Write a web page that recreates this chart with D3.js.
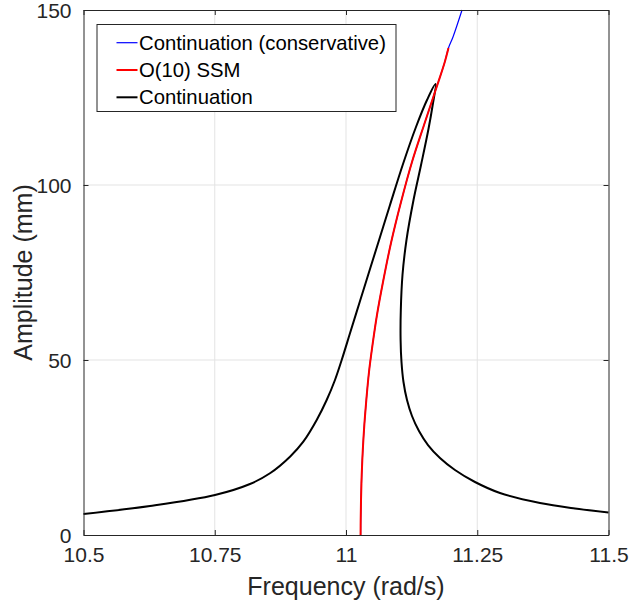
<!DOCTYPE html>
<html>
<head>
<meta charset="utf-8">
<script src="https://cdn.jsdelivr.net/npm/d3@7"></script>
<style>
body { margin: 0; background: #fff; }
text { font-family: "Liberation Sans", Arial, sans-serif; }
</style>
</head>
<body>
<script>
var w = 630;
var h = 606;

// full frequency response, continuation (freq in rad/s, amplitude in mm)
var contFreq = [10.5, 10.6267, 10.7505, 10.8171, 10.8552, 10.8933, 10.9187, 10.9442, 10.9632, 10.979, 10.9918, 11.0076, 11.0267, 11.0457, 11.0648, 11.0838, 11.1086, 11.1333, 11.1543, 11.1705,
  11.1648, 11.1571, 11.1429, 11.1286, 11.1152, 11.1076, 11.1044, 11.104, 11.1057, 11.1095, 11.1162, 11.1257, 11.139, 11.1562, 11.179, 11.2076, 11.2457, 11.2933, 11.3695, 11.4362, 11.5];
var contAmp = [6.0, 8.29, 11.43, 14.57, 17.63, 22.37, 26.66, 32.86, 38.57, 44.29, 50.0, 57.63, 66.86, 76.0, 85.14, 94.29, 106.0, 116.57, 124.29, 128.86,
  122.57, 116.0, 105.71, 95.71, 84.29, 74.29, 64.29, 55.71, 49.43, 43.71, 38.57, 34.0, 29.71, 25.71, 22.0, 18.57, 15.14, 12.0, 9.14, 7.57, 6.43];

// SSM backbone O(10)
var ssmFreq = [11.0278, 11.028, 11.0286, 11.0299, 11.032, 11.0349, 11.0387, 11.0438, 11.0505, 11.059, 11.0705, 11.0857, 11.1048, 11.1257, 11.1486, 11.1714, 11.1876, 11.1952];
var ssmAmp = [0, 4.29, 10.0, 17.14, 24.29, 31.43, 38.57, 46.57, 54.29, 62.86, 72.29, 83.43, 95.14, 106.57, 117.14, 127.43, 134.86, 139.14];

// conservative backbone continuation
var consFreq = [11.0278, 11.028, 11.0286, 11.0299, 11.032, 11.0349, 11.0387, 11.0438, 11.0505, 11.059, 11.0705, 11.0857, 11.1048, 11.1257, 11.1486, 11.1714, 11.1876, 11.1952, 11.2038, 11.221];
var consAmp = [0, 4.29, 10.0, 17.14, 24.29, 31.43, 38.57, 46.57, 54.29, 62.86, 72.29, 83.43, 95.14, 106.57, 117.14, 127.43, 134.86, 139.14, 142.29, 150];

var xTicks = [10.5, 10.75, 11, 11.25, 11.5];
var yTicks = [0, 50, 100, 150];
var legendNames = ["Continuation (conservative)", "O(10) SSM", "Continuation"];
var legendColors = ["#0000ff", "#ff0000", "#000000"];

var mLeft = 83.5, mRight = 608.5, mTop = 10, mBottom = 535;
var axisColor = "#262626";

var svg = d3.select("body").append("svg")
  .attr("width", w)
  .attr("height", h);

var x = d3.scaleLinear().domain([10.5, 11.5]).range([mLeft, mRight]);
var y = d3.scaleLinear().domain([0, 150]).range([mBottom, mTop]);

// grid
var grid = svg.append("g");
grid.selectAll(".gx").data(xTicks.slice(1, -1)).enter().append("line")
  .attr("x1", function(d) { return x(d); }).attr("x2", function(d) { return x(d); })
  .attr("y1", mTop).attr("y2", mBottom)
  .attr("stroke", "#e3e3e3").attr("stroke-width", 1);
grid.selectAll(".gy").data(yTicks.slice(1, -1)).enter().append("line")
  .attr("y1", function(d) { return y(d); }).attr("y2", function(d) { return y(d); })
  .attr("x1", mLeft).attr("x2", mRight)
  .attr("stroke", "#e3e3e3").attr("stroke-width", 1);

function zip(fs, as) {
  return fs.map(function(f, i) { return [f, as[i]]; });
}

var line = d3.line()
  .x(function(d) { return x(d[0]); })
  .y(function(d) { return y(d[1]); })
  .curve(d3.curveCatmullRom.alpha(0.5));

var plot = svg.append("g");
plot.append("path").datum(zip(consFreq, consAmp))
  .attr("d", line).attr("fill", "none").attr("stroke", "#0000ff").attr("stroke-width", 1.2);
plot.append("path").datum(zip(contFreq, contAmp))
  .attr("d", line).attr("fill", "none").attr("stroke", "#000").attr("stroke-width", 2);
plot.append("path").datum(zip(ssmFreq, ssmAmp))
  .attr("d", line).attr("fill", "none").attr("stroke", "#ff0000").attr("stroke-width", 2);

// axes (ticks inside, box)
var xAxis = svg.append("g").attr("transform", "translate(0," + mBottom + ")")
  .call(d3.axisBottom(x).tickValues(xTicks).tickSizeInner(-5).tickSizeOuter(0).tickPadding(12)
    .tickFormat(function(d) { return d3.format("")(d); }));
var xAxisTop = svg.append("g").attr("transform", "translate(0," + mTop + ")")
  .call(d3.axisTop(x).tickValues(xTicks).tickSizeInner(-5).tickSizeOuter(0).tickFormat(""));
var yAxis = svg.append("g").attr("transform", "translate(" + mLeft + ",0)")
  .call(d3.axisLeft(y).tickValues(yTicks).tickSizeInner(-5).tickSizeOuter(0).tickPadding(12));
var yAxisRight = svg.append("g").attr("transform", "translate(" + mRight + ",0)")
  .call(d3.axisRight(y).tickValues(yTicks).tickSizeInner(-5).tickSizeOuter(0).tickFormat(""));

[xAxis, xAxisTop, yAxis, yAxisRight].forEach(function(a) {
  a.selectAll("path").attr("stroke", axisColor);
  a.selectAll("line").attr("stroke", axisColor);
  a.selectAll("text").attr("fill", axisColor).style("font-size", "21px")
    .style("font-family", "'Liberation Sans', Arial, sans-serif");
});
xAxis.selectAll("text").attr("dy", "0.71em");
yAxis.selectAll("text").attr("dy", "0.36em");

// axis titles
svg.append("text")
  .attr("x", (mLeft + mRight) / 2).attr("y", 595)
  .attr("text-anchor", "middle")
  .attr("fill", axisColor).style("font-size", "25px")
  .text("Frequency (rad/s)");
svg.append("text")
  .attr("transform", "translate(32," + ((mTop + mBottom) / 2) + ") rotate(-90)")
  .attr("text-anchor", "middle")
  .attr("fill", axisColor).style("font-size", "25px")
  .text("Amplitude (mm)");

// legend
var lg = svg.append("g");
lg.append("rect")
  .attr("x", 97).attr("y", 24.5).attr("width", 299).attr("height", 87)
  .attr("fill", "#fff").attr("stroke", axisColor).attr("stroke-width", 1);
var rows = lg.selectAll(".row").data(legendNames).enter().append("g")
  .attr("transform", function(d, i) { return "translate(0," + (42.7 + i * 27.3) + ")"; });
rows.append("line")
  .attr("x1", 116.5).attr("x2", 137.5).attr("y1", 0).attr("y2", 0)
  .attr("stroke", function(d, i) { return legendColors[i]; })
  .attr("stroke-width", function(d, i) { return i == 0 ? 1.2 : 2; });
rows.append("text")
  .attr("x", 139).attr("y", 0).attr("dy", "0.35em")
  .attr("fill", "#000").style("font-size", "20.3px")
  .text(function(d) { return d; });
</script>
</body>
</html>
